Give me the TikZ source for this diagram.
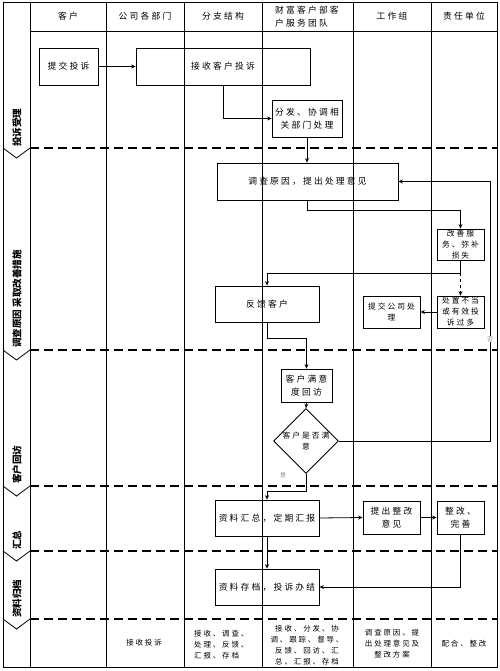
\documentclass[tikz,border=0pt]{standalone}
\usepackage{fontspec}
\newfontfamily\cjk{Noto Sans CJK SC}[LetterSpace=25]
\newfontfamily\cjkn{Noto Sans CJK SC}
\usetikzlibrary{arrows.meta,shapes.geometric}
\begin{document}
\begin{tikzpicture}[x=1bp,y=-1bp,
  frame/.style={line width=0.8pt},
  dashline/.style={line width=1.7pt, dash pattern=on 9bp off 5bp},
  hd/.style={font=\cjk\fontsize{8.8}{13}\selectfont, inner sep=0pt, align=center},
  ph/.style={font=\cjkn\bfseries\fontsize{9.6}{11}\selectfont, rotate=90, anchor=west, inner sep=0pt},
  box/.style={draw, line width=0.8pt, align=center, inner sep=1pt, font=\cjk\fontsize{8.8}{13}\selectfont},
  sbox/.style={box, font=\cjk\fontsize{7.8}{11}\selectfont},
  btxt/.style={font=\cjk\fontsize{7.5}{11.2}\selectfont, inner sep=0pt},
  lbl/.style={font=\cjkn\fontsize{6}{7}\selectfont, text=black!45, fill=white, inner sep=0.5pt},
  conn/.style={line width=0.8pt, -{Stealth[length=4.5pt,width=4pt]}}
]
\useasboundingbox (0,0) rectangle (500,671);
% grid
\draw[frame] (3,2) rectangle (497,667);
\foreach \x in {30,106,184,262,353,431} \draw[frame] (\x,2) -- (\x,667);
\draw[frame] (30,31) -- (497,31);
\foreach \y in {148,350,486,551,619} {
  \draw[dashline] (30,\y) -- (497,\y);
  \draw[frame] (3,\y) -- (16.5,\y+10) -- (30,\y);
}
% headers
\node[hd] (h1) at (68,16) {客户};
\node[hd] (h2) at (145,16) {公司各部门};
\node[hd] (h3) at (223,16) {分支结构};
\node[hd, align=left, anchor=west] (h4) at (275,17) {财富客户部客\\户服务团队};
\node[hd] (h5) at (392,16) {工作组};
\node[hd] (h6) at (464,16) {责任单位};
% phases
\node[ph] (p1) at (17,147) {投诉受理};
\node[ph] (p2) at (17,348) {调查原因 采取改善措施};
\node[ph] (p3) at (17,484) {客户回访};
\node[ph] (p4) at (17,550) {汇总};
\node[ph] (p5) at (17,618) {资料归档};
% boxes
\node[box, minimum width=59bp, minimum height=37bp] (tj) at (68.5,66.5) {提交投诉};
\node[box, minimum width=174bp, minimum height=37bp] (js) at (223,66.5) {接收客户投诉};
\node[box, minimum width=70bp, minimum height=37bp] (ff) at (307,118.5) {分发、协调相\\关部门处理};
\node[box, minimum width=181bp, minimum height=37bp] (dc) at (307.5,181.5) {调查原因，提出处理意见};
\node[sbox, minimum width=47bp, minimum height=31bp] (gs) at (460.5,244.5) {改善服\\务、弥补\\损失};
\node[sbox, minimum width=47bp, minimum height=32bp] (cz) at (460.5,312) {处置不当\\或有效投\\诉过多};
\node[sbox, minimum width=57bp, minimum height=32bp] (tg) at (391.5,312) {提交公司处\\理};
\node[box, minimum width=104bp, minimum height=36bp] (fk) at (267,304) {反馈客户};
\node[box, minimum width=51bp, minimum height=33bp] (hf) at (306.5,385.5) {客户满意\\度回访};
\node[draw, line width=0.8pt, diamond, minimum width=63bp, minimum height=36bp, inner sep=0pt, align=center,
  font=\cjk\fontsize{7.8}{11}\selectfont] (dm) at (306,441) {客户是否满\\意};
\node[box, minimum width=104bp, minimum height=36bp] (hz) at (267,518) {资料汇总，定期汇报};
\node[box, minimum width=57bp, minimum height=33bp] (zg) at (391.5,517.5) {提出整改\\意见};
\node[box, minimum width=47bp, minimum height=33bp] (ws) at (460.5,517.5) {整改、\\完善};
\node[box, minimum width=104bp, minimum height=36bp] (cd) at (267,587) {资料存档，投诉办结};
% connectors
\draw[conn] (tj) -- (js);
\draw[conn] (js.south) |- (ff.west);
\draw[conn] (ff.south) -- (ff.south |- dc.north);
\draw[conn] (dc.south) -- ++(0,10) -| (gs.north);
\draw[conn] (gs.south) -- ++(0,13) -| (fk.north);
\path (gs.south) ++(0,13) coordinate (g1);
\draw[line width=0.8pt, dashed, -{Stealth[length=4.5pt,width=4pt]}] (g1) -- (cz.north);
\draw[conn] (cz.west) -- (tg.east);
\draw[conn] (fk.south) -- ++(0,16) -| (hf.north);
\draw[conn] (hf.south) -- (dm.north);
\coordinate (rr) at (490,0);
\draw[conn] (dm.east) -| (rr |- dc.east) -- (dc.east);
\node[lbl] (no) at (490,339) {否};
\draw[conn] (dm.south) -- ++(0,18) -| (hz.north);
\node[lbl] (yes) at (283,475) {是};
\draw[conn] (hz.east) -- (zg.west);
\draw[conn] (zg.east) -- (ws.west);
\draw[conn] (hz.south) -- (cd.north);
\draw[conn] (ws.south) |- (cd.east);
% bottom row
\node[btxt] (b2) at (144,643) {接收投诉};
\node[btxt, align=left, anchor=west] (b3) at (194,645) {接收、调查、\\处理、反馈、\\汇报、存档};
\node[btxt, align=center] (b4) at (307,645) {接收、分发、协\\调、跟踪、督导、\\反馈、回访、汇\\总、汇报、存档};
\node[btxt, align=center] (b5) at (392,644) {调查原因、提\\出处理意见及\\整改方案};
\node[btxt] (b6) at (464,644) {配合、整改};
\end{tikzpicture}
\end{document}
